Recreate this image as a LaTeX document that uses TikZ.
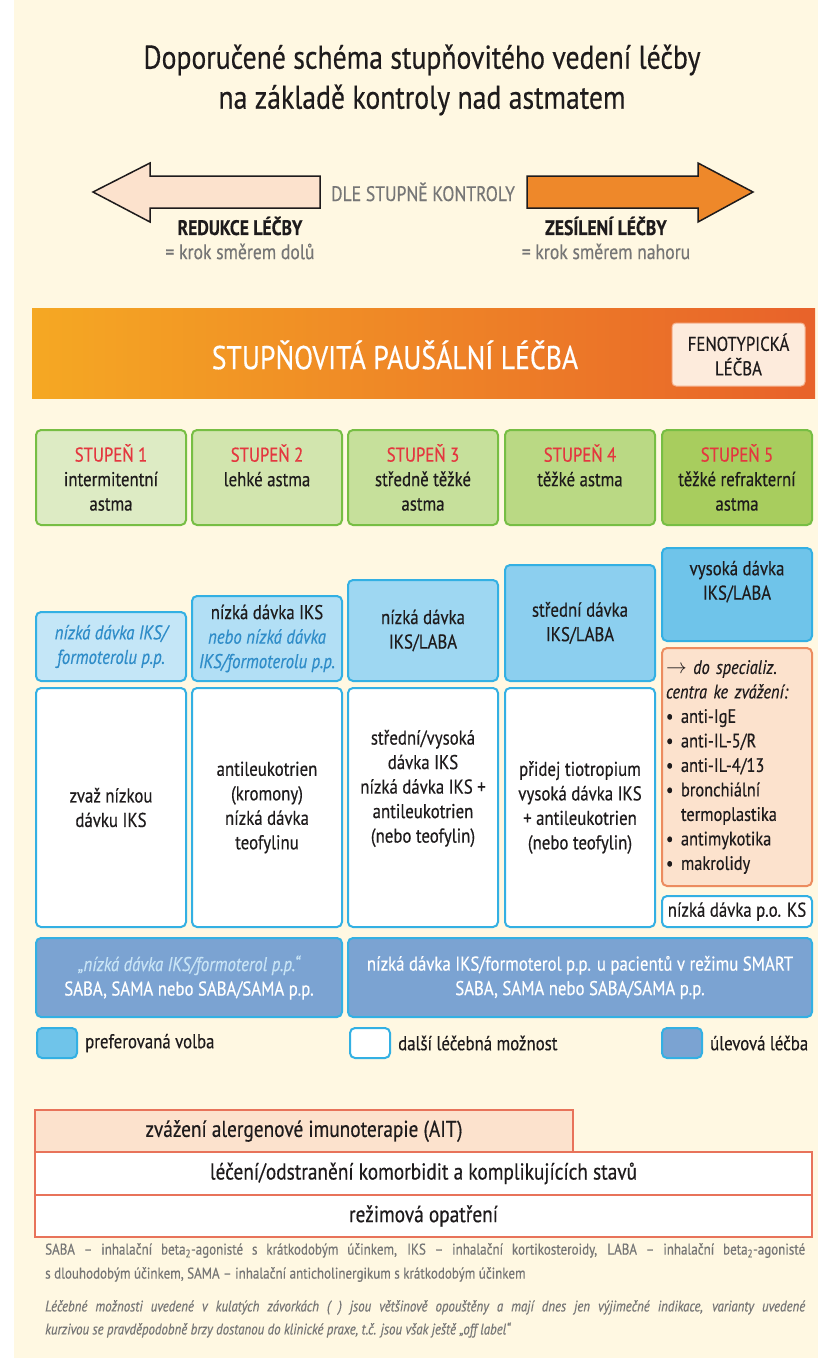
\documentclass[tikz,border=0pt]{standalone}
\usepackage{fontspec}
\setmainfont{PT Sans}[FakeStretch=0.84, FakeBold=0.4]
\usepackage{xcolor}
\usepackage{tikz}
\usetikzlibrary{positioning}
\definecolor{cream}{RGB}{255,248,226}
\definecolor{inkgray}{RGB}{30,27,28}
\definecolor{softgray}{RGB}{118,118,118}
\definecolor{peach}{RGB}{252,226,205}
\definecolor{arroworange}{RGB}{238,136,42}
\definecolor{bandleft}{RGB}{245,168,35}
\definecolor{bandright}{RGB}{232,98,42}
\definecolor{stepred}{RGB}{228,55,63}
\definecolor{stepgreen}{RGB}{119,190,68}
\definecolor{greenA}{RGB}{221,235,196}
\definecolor{greenB}{RGB}{210,229,174}
\definecolor{greenC}{RGB}{198,224,155}
\definecolor{greenD}{RGB}{186,217,132}
\definecolor{greenE}{RGB}{168,205,94}
\definecolor{cyanline}{RGB}{51,176,227}
\definecolor{blueA}{RGB}{196,230,247}
\definecolor{blueB}{RGB}{178,223,245}
\definecolor{blueC}{RGB}{158,215,242}
\definecolor{blueD}{RGB}{140,207,239}
\definecolor{blueE}{RGB}{111,196,234}
\definecolor{italblue}{RGB}{46,140,200}
\definecolor{steelblue}{RGB}{123,163,210}
\definecolor{paleblue}{RGB}{200,228,246}
\definecolor{salmon}{RGB}{232,115,90}
\definecolor{orangeline}{RGB}{236,140,95}

\begin{document}
\begin{tikzpicture}[x=1pt, y=-1pt,
  txt/.style={font=\fontsize{20}{24.5}\selectfont, text=inkgray, align=center, inner sep=0pt},
  stagebox/.style={draw=stepgreen, line width=2pt, rounded corners=5pt, minimum width=150pt, minimum height=95pt, txt},
  prefbox/.style={draw=cyanline, line width=2pt, rounded corners=5pt, minimum width=150pt, txt},
  optbox/.style={prefbox, fill=white, minimum height=239pt},
  relbox/.style={prefbox, fill=steelblue, minimum height=79pt, text=white},
  legbox/.style={draw=cyanline, line width=2pt, rounded corners=5pt, minimum width=40pt, minimum height=30pt},
  basebox/.style={draw=salmon, line width=1.5pt, minimum height=42pt, txt, font=\fontsize{23}{26}\selectfont},
  arrowline/.style={draw=inkgray, line width=1.5pt},
  note/.style={font=\fontsize{15.5}{24}\selectfont, text=softgray, text width=760pt, align=justify, anchor=north west, inner sep=0pt}]
  \useasboundingbox (0,0) rectangle (818,1358);
  \fill[white] (0,0) rectangle (818,1358);
  \fill[cream] (14,0) rectangle (818,1358);

  % title
  \node[txt, font=\fontsize{33}{40}\selectfont] (title) at (422,80) {Doporučené schéma stupňovitého vedení léčby\\na základě kontroly nad astmatem};

  % direction arrows
  \draw[arrowline, fill=peach] (320,176) -- (150,176) -- (150,163) -- (93,192) -- (150,222) -- (150,208) -- (320,208) -- cycle;
  \draw[arrowline, fill=arroworange] (527,176) -- (698,176) -- (698,163) -- (753,192) -- (698,222) -- (698,208) -- (527,208) -- cycle;
  \node[txt, text=softgray, font=\fontsize{21}{24}\selectfont] (dle) at (423,192) {DLE STUPNĚ KONTROLY};
  \node[txt, font=\bfseries\fontsize{21}{24}\selectfont] (redukce) at (240,226) {REDUKCE LÉČBY};
  \node[txt, text=softgray, font=\fontsize{21}{24}\selectfont, below=8pt of redukce] (dolu) {= krok směrem dolů};
  \node[txt, font=\bfseries\fontsize{21}{24}\selectfont] (zesileni) at (606,226) {ZESÍLENÍ LÉČBY};
  \node[txt, text=softgray, font=\fontsize{21}{24}\selectfont, below=8pt of zesileni] (nahoru) {= krok směrem nahoru};

  % orange band
  \node[minimum width=783pt, minimum height=90pt, inner sep=0pt, left color=bandleft, right color=bandright] (band) at (423.5,353) {};
  \node[txt, text=white, font=\fontsize{33}{36}\selectfont] (bandtext) at (395,355) {STUPŇOVITÁ PAUŠÁLNÍ LÉČBA};
  \node[txt, fill=peach!70!white, draw=peach!60!bandright, line width=1pt, rounded corners=4pt, minimum width=133pt, minimum height=63pt] (feno) at (738.5,354.5) {FENOTYPICKÁ\\LÉČBA};

  % stages
  \node[stagebox, fill=greenA] (stage1) at (111,477.5) {{\color{stepred}STUPEŇ 1}\\intermitentní\\astma};
  \node[stagebox, fill=greenB] (stage2) at (267,477.5) {{\color{stepred}STUPEŇ 2}\\lehké astma\\\mbox{}};
  \node[stagebox, fill=greenC] (stage3) at (423,477.5) {{\color{stepred}STUPEŇ 3}\\středně těžké\\astma};
  \node[stagebox, fill=greenD] (stage4) at (580,477.5) {{\color{stepred}STUPEŇ 4}\\těžké astma\\\mbox{}};
  \node[stagebox, fill=greenE] (stage5) at (737,477.5) {{\color{stepred}STUPEŇ 5}\\těžké refrakterní\\astma};

  % preferred choice
  \node[prefbox, fill=blueA, minimum height=69pt, text=italblue, font=\itshape\fontsize{20}{24.5}\selectfont] (pref1) at (111,646.5) {nízká dávka IKS/\\formoterolu p.p.};
  \node[prefbox, fill=blueB, minimum height=85pt] (pref2) at (267,638.5) {nízká dávka IKS\\{\color{italblue}\itshape nebo nízká dávka}\\{\color{italblue}\itshape IKS/formoterolu p.p.}};
  \node[prefbox, fill=blueC, minimum height=101pt] (pref3) at (423,630.5) {nízká dávka\\IKS/LABA};
  \node[prefbox, fill=blueD, minimum height=116pt] (pref4) at (580,623) {střední dávka\\IKS/LABA};
  \node[prefbox, fill=blueE, minimum height=93pt] (pref5) at (737,594.5) {vysoká dávka\\IKS/LABA\\[4pt]};

  % other options
  \node[optbox] (opt1) at (111,807.5) {zvaž nízkou\\dávku IKS};
  \node[optbox] (opt2) at (267,807.5) {antileukotrien\\(kromony)\\nízká dávka\\teofylinu};
  \node[optbox] (opt3) at (423,807.5) {střední/vysoká\\dávka IKS\\nízká dávka IKS +\\antileukotrien\\(nebo teofylin)\\[18pt]};
  \node[optbox] (opt4) at (580,807.5) {přidej tiotropium\\vysoká dávka IKS\\+ antileukotrien\\(nebo teofylin)};
  \node[optbox, fill=peach, draw=orangeline, minimum height=238pt, text width=142pt, align=left, font=\fontsize{19.5}{24.5}\selectfont] (spec) at (737,767) {$\rightarrow$ \textit{do specializ.}\\\textit{centra ke zvážení:}\\
    \makebox[15pt][l]{\textbullet}anti-IgE\\\makebox[15pt][l]{\textbullet}anti-IL-5/R\\\makebox[15pt][l]{\textbullet}anti-IL-4/13\\
    \makebox[15pt][l]{\textbullet}bronchiální\\\makebox[15pt][l]{}termoplastika\\\makebox[15pt][l]{\textbullet}antimykotika\\\makebox[15pt][l]{\textbullet}makrolidy};
  \node[optbox, minimum height=31pt] (oralks) at (737,911.5) {nízká dávka p.o. KS};

  % reliever
  \node[relbox, minimum width=306pt] (relief1) at (189,977.5) {{\color{paleblue}\itshape „nízká dávka IKS/formoterol p.p.“}\\SABA, SAMA nebo SABA/SAMA p.p.};
  \node[relbox, minimum width=464pt] (relief2) at (580,977.5) {nízká dávka IKS/formoterol p.p. u pacientů v režimu SMART\\SABA, SAMA nebo SABA/SAMA p.p.};

  % legend
  \node[legbox, fill=blueE] (legpref) at (57,1043) {};
  \node[txt, anchor=west, right=7pt of legpref] (legpreftext) {preferovaná volba};
  \node[legbox, fill=white] (legopt) at (370,1043) {};
  \node[txt, anchor=west, right=7pt of legopt] (legopttext) {další léčebná možnost};
  \node[legbox, fill=steelblue] (legrel) at (682,1043) {};
  \node[txt, anchor=west, right=7pt of legrel] (legreltext) {úlevová léčba};

  % base measures
  \node[basebox, fill=peach, minimum width=538pt] (ait) at (304,1131) {zvážení alergenové imunoterapie (AIT)};
  \node[basebox, fill=white, minimum width=777pt, minimum height=43pt] (komorb) at (423.5,1173.5) {léčení/odstranění komorbidit a komplikujících stavů};
  \node[basebox, fill=white, minimum width=777pt] (rezim) at (423.5,1216) {režimová opatření};

  % notes
  \node[note] (abbrev) at (45,1243) {SABA – inhalační beta\textsubscript{2}-agonisté s krátkodobým účinkem, IKS – inhalační kortikosteroidy, LABA – inhalační beta\textsubscript{2}-agonisté\linebreak s dlouhodobým účinkem, SAMA – inhalační anticholinergikum s krátkodobým účinkem};
  \node[note, font=\itshape\fontsize{15.3}{23}\selectfont] (remark) at (45,1300) {Léčebné možnosti uvedené v kulatých závorkách ( ) jsou většinově opouštěny a mají dnes jen výjimečné indikace, varianty uvedené\linebreak kurzivou se pravděpodobně brzy dostanou do klinické praxe, t.č. jsou však ještě „off label“};
\end{tikzpicture}
\end{document}
